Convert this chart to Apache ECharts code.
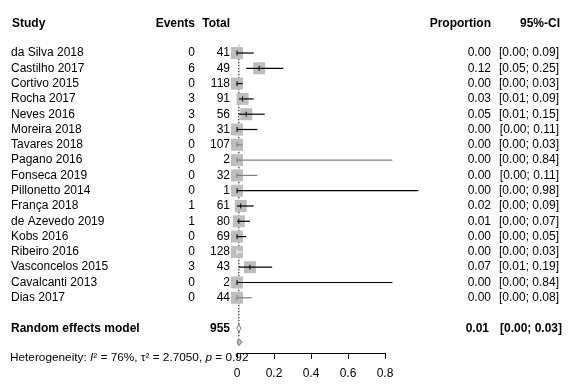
<!DOCTYPE html>
<html>
<head>
<meta charset="utf-8">
<script src="https://cdn.jsdelivr.net/npm/echarts@6/dist/echarts.min.js"></script>
<style>
  html, body { margin: 0; padding: 0; background: #fff; }
  #main { width: 580px; height: 391px; }
</style>
</head>
<body>
<div id="main"></div>
<script>
// data
const studies = ['da Silva 2018', 'Castilho 2017', 'Cortivo 2015', 'Rocha 2017', 'Neves 2016',
  'Moreira 2018', 'Tavares 2018', 'Pagano 2016', 'Fonseca 2019', 'Pillonetto 2014',
  'França 2018', 'de Azevedo 2019', 'Kobs 2016', 'Ribeiro 2016', 'Vasconcelos 2015',
  'Cavalcanti 2013', 'Dias 2017']
const events = [0, 6, 0, 3, 3, 0, 0, 0, 0, 0, 1, 1, 0, 0, 3, 0, 0]
const totals = [41, 49, 118, 91, 56, 31, 107, 2, 32, 1, 61, 80, 69, 128, 43, 2, 44]
const proportion = [0.00, 0.12, 0.00, 0.03, 0.05, 0.00, 0.00, 0.00, 0.00, 0.00, 0.02, 0.01, 0.00, 0.00, 0.07, 0.00, 0.00]
const ciLower = [0.00, 0.05, 0.00, 0.01, 0.01, 0.00, 0.00, 0.00, 0.00, 0.00, 0.00, 0.00, 0.00, 0.00, 0.01, 0.00, 0.00]
const ciUpper = [0.09, 0.25, 0.03, 0.09, 0.15, 0.11, 0.03, 0.84, 0.11, 0.98, 0.09, 0.07, 0.05, 0.03, 0.19, 0.84, 0.08]
const pooled = { total: 955, est: 0.01, lower: 0.00, upper: 0.03 }
const heterogeneity = { i2: '76%', tau2: '2.7050', p: '0.92' }

// styling
const font = 'Liberation Sans, Arial, sans-serif'
const grayLines = [6, 7, 8, 16]   // lighter CI lines
const whiteLines = [13]           // CI lies inside the square
const sq = 12

const chart = echarts.init(document.getElementById('main'))

const rowRE = studies.length + 1
const forestData = studies.map((s, i) => [ciLower[i], ciUpper[i], proportion[i], i])

function txt(x, y, text, align, bold, size) {
  return {
    type: 'text',
    style: {
      x: x, y: y, text: text, align: align, verticalAlign: 'middle',
      font: (bold ? 'bold ' : '') + (size || 12) + 'px ' + font, fill: '#000'
    }
  }
}

const option = {
  animation: false,
  grid: [
    { left: 237, width: 185, top: 45.35, height: 307.5 },
    { left: 237, width: 148, top: 45.35, height: 307.5 }
  ],
  xAxis: [
    { gridIndex: 0, type: 'value', min: 0, max: 1, show: false },
    {
      gridIndex: 1, type: 'value', min: 0, max: 0.8, interval: 0.2, position: 'bottom',
      axisLine: { show: true, onZero: false, lineStyle: { color: '#000', width: 1 } },
      axisTick: { show: true, length: 6, lineStyle: { color: '#000' } },
      splitLine: { show: false },
      axisLabel: { color: '#000', fontFamily: font, fontSize: 12, margin: 15,
        showMinLabel: true, showMaxLabel: true }
    }
  ],
  yAxis: [
    { gridIndex: 0, type: 'value', inverse: true, min: -0.5, max: 19.6, show: false },
    { gridIndex: 1, type: 'value', inverse: true, min: -0.5, max: 19.6, show: false }
  ],
  series: [
    // reference line at the pooled estimate
    {
      type: 'line', xAxisIndex: 0, yAxisIndex: 0, silent: true, symbol: 'none',
      data: [[pooled.est, -0.6], [pooled.est, rowRE + 0.6]],
      lineStyle: { color: '#000', width: 1, type: [1.5, 1.5] }, z: 1
    },
    // squares + CI lines
    {
      type: 'custom', xAxisIndex: 0, yAxisIndex: 0, clip: false, z: 2,
      data: forestData,
      renderItem: function (params, api) {
        const i = params.dataIndex
        const lo = api.coord([api.value(0), api.value(3)])
        const hi = api.coord([api.value(1), api.value(3)])
        const pt = api.coord([api.value(2), api.value(3)])
        let col = '#000'
        if (grayLines.indexOf(i) >= 0) col = '#808080'
        if (whiteLines.indexOf(i) >= 0) col = '#fff'
        return {
          type: 'group',
          children: [
            { type: 'rect', shape: { x: pt[0] - sq / 2, y: pt[1] - sq / 2, width: sq, height: sq },
              style: { fill: '#bebebe' } },
            { type: 'line', shape: { x1: lo[0], y1: lo[1], x2: hi[0], y2: hi[1] },
              style: { stroke: col, lineWidth: 1.2 } },
            { type: 'line', shape: { x1: pt[0], y1: pt[1] - 2.5, x2: pt[0], y2: pt[1] + 2.5 },
              style: { stroke: col, lineWidth: 1 } }
          ]
        }
      }
    },
    // pooled diamonds
    {
      type: 'custom', xAxisIndex: 0, yAxisIndex: 0, clip: false, z: 3,
      data: [[pooled.lower, pooled.est, pooled.upper, rowRE]],
      renderItem: function (params, api) {
        const r = api.value(3)
        const lo = api.coord([api.value(0), r + 0.9])
        const mid = api.coord([api.value(1), r + 0.9])
        const hi = api.coord([api.value(2), r + 0.9])
        const m0 = api.coord([api.value(1), r])
        return {
          type: 'group',
          children: [
            { type: 'polygon',
              shape: { points: [[m0[0] - 2, m0[1]], [m0[0], m0[1] - 4], [m0[0] + 2, m0[1]], [m0[0], m0[1] + 4]] },
              style: { fill: '#fff', stroke: '#555', lineWidth: 0.8 } },
            { type: 'polygon',
              shape: { points: [[lo[0], lo[1]], [mid[0], mid[1] - 3.5], [hi[0] - 0.5, hi[1]], [mid[0], mid[1] + 3.5]] },
              style: { fill: '#bebebe', stroke: '#555', lineWidth: 0.8 } }
          ]
        }
      }
    },
    // text columns
    {
      type: 'custom', xAxisIndex: 0, yAxisIndex: 0, clip: false, silent: true, z: 4,
      data: [0],
      renderItem: function (params, api) {
        const yOf = r => api.coord([0, r])[1]
        const kids = []
        const yh = yOf(-1.9)
        kids.push(txt(12, yh, 'Study', 'left', true))
        kids.push(txt(195, yh, 'Events', 'right', true))
        kids.push(txt(230, yh, 'Total', 'right', true))
        kids.push(txt(491, yh, 'Proportion', 'right', true))
        kids.push(txt(560, yh, '95%-CI', 'right', true))
        studies.forEach((s, i) => {
          const y = yOf(i)
          kids.push(txt(11, y, s, 'left'))
          kids.push(txt(195, y, String(events[i]), 'right'))
          kids.push(txt(230, y, String(totals[i]), 'right'))
          kids.push(txt(491, y, proportion[i].toFixed(2), 'right'))
          kids.push(txt(559, y, '[' + ciLower[i].toFixed(2) + '; ' + ciUpper[i].toFixed(2) + ']', 'right'))
        })
        const yr = yOf(rowRE)
        kids.push(txt(11, yr, 'Random effects model', 'left', true))
        kids.push(txt(230, yr, String(pooled.total), 'right', true))
        kids.push(txt(489, yr, pooled.est.toFixed(2), 'right', true))
        kids.push(txt(562, yr, '[' + pooled.lower.toFixed(2) + '; ' + pooled.upper.toFixed(2) + ']', 'right', true))
        kids.push({
          type: 'text',
          style: {
            x: 10, y: yOf(rowRE + 1.9), verticalAlign: 'middle', align: 'left',
            text: '{n|Heterogeneity: }{i|I}{n|² = ' + heterogeneity.i2 + ', τ² = ' + heterogeneity.tau2 + ', }{i|p}{n| = ' + heterogeneity.p + '}',
            rich: {
              n: { fontFamily: font, fontSize: 11.8, fill: '#000' },
              i: { fontFamily: font, fontSize: 11.8, fontStyle: 'italic', fill: '#000' }
            }
          }
        })
        return { type: 'group', children: kids }
      }
    }
  ]
}

chart.setOption(option)
</script>
</body>
</html>
